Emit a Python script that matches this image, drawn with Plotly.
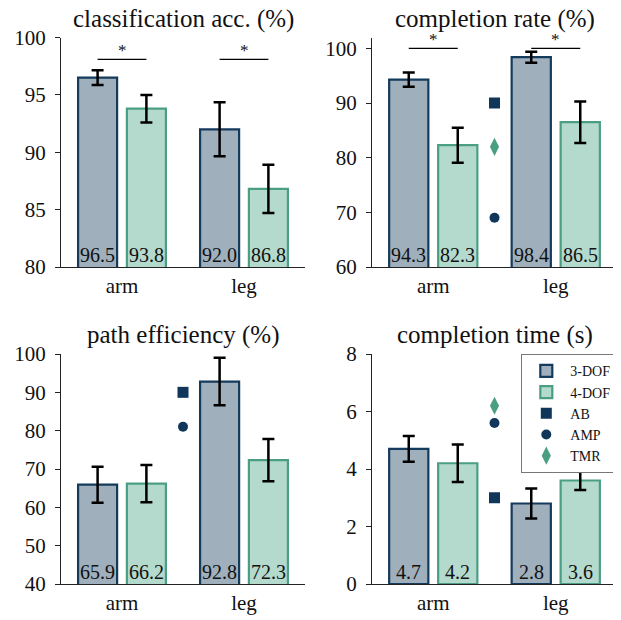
import plotly.graph_objects as go
from plotly.subplots import make_subplots

# ---------------- data ----------------
categories = ["arm", "leg"]
titles = ["classification acc. (%)", "completion rate (%)",
          "path efficiency (%)", "completion time (s)"]

dof3_values = [[96.5, 92.0], [94.3, 98.4], [65.9, 92.8], [4.7, 2.8]]
dof3_errors = [[0.65, 2.35], [1.3, 1.0], [4.7, 6.2], [0.45, 0.52]]
dof4_values = [[93.8, 86.8], [82.3, 86.5], [66.2, 72.3], [4.2, 3.6]]
dof4_errors = [[1.2, 2.1], [3.2, 3.8], [4.85, 5.5], [0.65, 0.33]]

ab_values = [None, 90.0, 90.0, 3.0]
amp_values = [None, 69.0, 81.0, 5.6]
tmr_values = [None, 82.0, None, 6.2]

y_ranges = [[80, 100], [60, 102], [40, 100], [0, 8]]
y_ticks = [[80, 85, 90, 95, 100], [60, 70, 80, 90, 100],
           [40, 50, 60, 70, 80, 90, 100], [0, 2, 4, 6, 8]]
# significance bars (panel index, category index, y value)
sig_panels = [0, 0, 1, 1]
sig_cats = [0, 1, 0, 1]
sig_y = [98.1, 98.1, 100.0, 100.0]

# ---------------- style ----------------
FONT = "Liberation Serif, Times New Roman, serif"
C3_FILL, C3_EDGE = "#9fafbc", "#143a5c"
C4_FILL, C4_EDGE = "#b4d9cd", "#4a9e84"
NAVY, GREEN = "#10375a", "#4a9e84"

PAGE = 8                      # default body margin of the html page
W, H = 621 - PAGE, 620 - PAGE


def fx(px):
    return (px - PAGE) / W


def fy(py):
    return 1 - (py - PAGE) / H


fig = make_subplots(rows=2, cols=2)

x_domains = [[fx(61), fx(305)], [fx(372), fx(617)]]
y_domains = [[fy(267), fy(37.5)], [fy(584), fy(354)]]

BAR_W = 0.32
for p in range(4):
    r, c = p // 2 + 1, p % 2 + 1
    first = p == 0
    fig.add_trace(go.Bar(
        x=[0, 1], y=dof3_values[p], width=BAR_W, offset=-0.2 - BAR_W / 2,
        marker=dict(color=C3_FILL, line=dict(color=C3_EDGE, width=2.2)),
        error_y=dict(type="data", array=dof3_errors[p], color="black", thickness=2.5, width=6),
        name="3-DOF", legendgroup="3-DOF", showlegend=first, legendrank=1,
    ), row=r, col=c)
    fig.add_trace(go.Bar(
        x=[0, 1], y=dof4_values[p], width=BAR_W, offset=0.2 - BAR_W / 2,
        marker=dict(color=C4_FILL, line=dict(color=C4_EDGE, width=2.2)),
        error_y=dict(type="data", array=dof4_errors[p], color="black", thickness=2.5, width=6),
        name="4-DOF", legendgroup="4-DOF", showlegend=first, legendrank=2,
    ), row=r, col=c)

shown = set()
for p in range(4):
    r, c = p // 2 + 1, p % 2 + 1
    for name, vals, sym, col, size, rank in [
        ("AB", ab_values, "square", NAVY, 11, 3),
        ("AMP", amp_values, "circle", NAVY, 10, 4),
        ("TMR", tmr_values, "diamond-tall", GREEN, 13, 5),
    ]:
        if vals[p] is None:
            continue
        fig.add_trace(go.Scatter(
            x=[0.5], y=[vals[p]], mode="markers",
            marker=dict(symbol=sym, color=col, size=size, line=dict(width=0)),
            name=name, legendgroup=name, showlegend=name not in shown, legendrank=rank,
        ), row=r, col=c)
        shown.add(name)

annotations = []
shapes = []
for p in range(4):
    r, c = p // 2, p % 2
    ax = "" if p == 0 else str(p + 1)
    xa, ya = "xaxis" + ax, "yaxis" + ax
    fig.layout[xa].update(
        domain=x_domains[c], range=[-0.5, 1.5], tickvals=[0, 1], ticktext=categories,
        showline=True, linecolor="#222", linewidth=1.3, ticks="", showgrid=False,
        zeroline=False, tickfont=dict(family=FONT, size=21, color="#111"),
    )
    fig.layout[ya].update(
        domain=y_domains[r], range=y_ranges[p], tickvals=y_ticks[p],
        showline=True, linecolor="#222", linewidth=1.3, ticks="outside", ticklen=5,
        tickwidth=1.3, tickcolor="#222", showgrid=False, zeroline=False,
        ticklabelstandoff=5,
        tickfont=dict(family=FONT, size=21, color="#111"),
    )
    # title
    annotations.append(dict(
        text=titles[p], xref="paper", yref="paper",
        x=sum(x_domains[c]) / 2, y=y_domains[r][1], xanchor="center", yanchor="bottom",
        yshift=3, showarrow=False, font=dict(family=FONT, size=25, color="#111"),
    ))
    # value labels
    for i in range(2):
        for off, vals in [(-0.2, dof3_values[p]), (0.2, dof4_values[p])]:
            annotations.append(dict(
                text=f"{vals[i]:.1f}", xref="x" + ax, yref="y" + ax,
                x=i + off, y=y_ranges[p][0], xanchor="center", yanchor="bottom",
                yshift=-1, showarrow=False, font=dict(family=FONT, size=20, color="#111"),
            ))

for p, ci, yv in zip(sig_panels, sig_cats, sig_y):
    ax = "" if p == 0 else str(p + 1)
    shapes.append(dict(type="line", xref="x" + ax, yref="y" + ax,
                       x0=ci - 0.2, x1=ci + 0.2, y0=yv, y1=yv,
                       line=dict(color="black", width=1.3)))
    annotations.append(dict(text="*", xref="x" + ax, yref="y" + ax, x=ci, y=yv,
                            xanchor="center", yanchor="bottom", yshift=-3, showarrow=False,
                            font=dict(family=FONT, size=17, color="#111")))

fig.update_layout(
    width=W, height=H, margin=dict(l=0, r=0, t=0, b=0, autoexpand=False),
    paper_bgcolor="white", plot_bgcolor="white", barmode="overlay",
    annotations=annotations, shapes=shapes,
    legend=dict(x=fx(617), y=fy(354), xanchor="right", yanchor="top",
                xref="paper", yref="paper", itemwidth=38,
                bordercolor="#777", borderwidth=1.3, bgcolor="white",
                font=dict(family=FONT, size=14, color="#111"), tracegroupgap=0),
    showlegend=True,
)

fig.write_html("out.html")
